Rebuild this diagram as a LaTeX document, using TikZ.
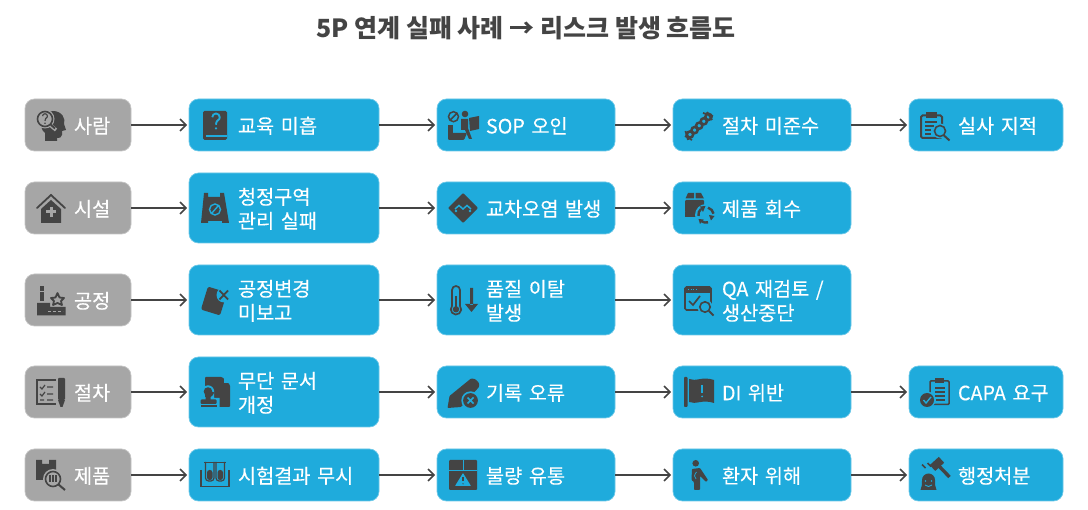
\documentclass[tikz,border=0pt]{standalone}
\usepackage{fontspec}
\setmainfont{Noto Sans CJK KR}
\newfontfamily\medf[FakeBold=0.2]{Noto Sans CJK KR}
\usetikzlibrary{arrows.meta}
\definecolor{bluebox}{HTML}{1FABDC}
\definecolor{blueedge}{HTML}{6CC8E8}
\definecolor{graybox}{HTML}{A6A6A6}
\definecolor{grayedge}{HTML}{C4C4C4}
\definecolor{ink}{HTML}{444444}
\tikzset{
  x=1pt,y=-1pt,
  flowbox/.style={rounded corners=9.5pt,line width=.7pt,inner sep=0pt,align=left,text=white,
    font=\medf\fontsize{19.7}{24}\selectfont},
  bluenode/.style={flowbox,fill=bluebox,draw=blueedge},
  graynode/.style={flowbox,fill=graybox,draw=grayedge},
  flowarrow/.style={draw=ink,line width=1.6pt,-{Straight Barb[length=6pt,width=12pt,line width=1.6pt]},shorten >=1.5pt},
  ttl/.style={font=\fontsize{25}{30}\selectfont\bfseries,text=ink,inner sep=0pt},
}
\newcommand{\pad}{\hspace*{49pt}}
\newcommand{\pbox}[7]{\node[#1,minimum width=#5pt,minimum height=#6pt,text width=#5pt] (#2) at (#3,#4) {\rule{0pt}{18pt}\pad #7};}
\newcommand{\qmk}[4]{\begin{scope}[shift={(#1,#2)},scale=#3]
  \draw[#4,line width=#3*1.5pt] (-3,-3) arc (180:390:3) .. controls (1.5,-0.5) and (0,0.2) .. (0,3);
  \fill[#4] (0,6) circle (1);
\end{scope}}
\begin{document}
\begin{tikzpicture}
\useasboundingbox (0,0) rectangle (1088,510);
\fill[white] (0,0) rectangle (1088,510);
\node[ttl] (title) at (526,28) {5P 연계 실패 사례 → 리스크 발생 흐름도};
% row 1
\pbox{graynode}{g1}{78}{125}{106}{52}{사람}
\pbox{bluenode}{a1}{284}{125}{190}{52}{교육 미흡}
\pbox{bluenode}{a2}{526}{125}{178}{52}{SOP 오인}
\pbox{bluenode}{a3}{762}{125}{178}{52}{절차 미준수}
\pbox{bluenode}{a4}{986}{125}{154}{52}{실사 지적}
% row 2
\pbox{graynode}{g2}{78}{208}{106}{52}{시설}
\pbox{bluenode}{b1}{284}{208}{190}{70}{청정구역\\\pad 관리 실패}
\pbox{bluenode}{b2}{526}{208}{178}{52}{교차오염 발생}
\pbox{bluenode}{b3}{762}{208}{178}{52}{제품 회수}
% row 3
\pbox{graynode}{g3}{78}{300}{106}{52}{공정}
\pbox{bluenode}{c1}{284}{300}{190}{70}{공정변경\\\pad 미보고}
\pbox{bluenode}{c2}{526}{300}{178}{70}{품질 이탈\\\pad 발생}
\pbox{bluenode}{c3}{762}{300}{178}{70}{QA 재검토 /\\\pad 생산중단}
% row 4
\pbox{graynode}{g4}{78}{392}{106}{52}{절차}
\pbox{bluenode}{d1}{284}{392}{190}{70}{무단 문서\\\pad 개정}
\pbox{bluenode}{d2}{526}{392}{178}{52}{기록 오류}
\pbox{bluenode}{d3}{762}{392}{178}{52}{DI 위반}
\pbox{bluenode}{d4}{986}{392}{154}{52}{CAPA 요구}
% row 5
\pbox{graynode}{g5}{78}{475}{106}{52}{제품}
\pbox{bluenode}{e1}{284}{475}{190}{52}{시험결과 무시}
\pbox{bluenode}{e2}{526}{475}{178}{52}{불량 유통}
\pbox{bluenode}{e3}{762}{475}{178}{52}{환자 위해}
\pbox{bluenode}{e4}{986}{475}{154}{52}{행정처분}
% connectors
\draw[flowarrow] (g1) -- (a1); \draw[flowarrow] (a1) -- (a2); \draw[flowarrow] (a2) -- (a3); \draw[flowarrow] (a3) -- (a4);
\draw[flowarrow] (g2) -- (b1); \draw[flowarrow] (b1) -- (b2); \draw[flowarrow] (b2) -- (b3);
\draw[flowarrow] (g3) -- (c1); \draw[flowarrow] (c1) -- (c2); \draw[flowarrow] (c2) -- (c3);
\draw[flowarrow] (g4) -- (d1); \draw[flowarrow] (d1) -- (d2); \draw[flowarrow] (d2) -- (d3); \draw[flowarrow] (d3) -- (d4);
\draw[flowarrow] (g5) -- (e1); \draw[flowarrow] (e1) -- (e2); \draw[flowarrow] (e2) -- (e3); \draw[flowarrow] (e3) -- (e4);
% --- icons ---
% head + magnifier
\fill[ink] (45,141) -- (45,133) .. controls (38,128) and (40,112) .. (53,111) .. controls (62,111) and (66,119) .. (64,124) -- (66,130) -- (62,131) -- (62,135) .. controls (62,138) and (59,138) .. (57,138) -- (57,141) -- cycle;
\fill[graybox] (45,119) circle (9.5);
\draw[graybox,line width=3.5pt] (50,125) -- (56,130);
\draw[ink,line width=1.6pt] (45,119) circle (7.5);
\draw[ink,line width=1.8pt] (50.5,124.5) -- (55,128.5);
\qmk{45}{118.5}{.8}{ink}
% book
\fill[ink,rounded corners=1.5pt] (203,111) rectangle (227,140);
\draw[bluebox,line width=1.2pt] (206,136) -- (227,136);
\qmk{216}{121}{1.25}{bluebox}
% house
\fill[ink] (41,209) -- (51,200) -- (61,209) -- (61,223) -- (41,223) -- cycle;
\draw[ink,line width=1.8pt,line cap=round] (37,208) -- (51,195) -- (65,208);
\draw[graybox,line width=3pt] (51,207) -- (51,217) (46,212) -- (56,212);
% floor sign
\fill[ink] (204,193) -- (208,193) -- (208,197) -- (220,197) -- (220,193) -- (224,193) -- (229,223) -- (222,223) -- (222,221) -- (208,221) -- (208,223) -- (201,223) -- cycle;
\draw[bluebox,line width=1.4pt] (215,209.5) circle (5.5) (211.5,213.5) -- (218.5,205.5);
% factory
\fill[ink] (40,286) rectangle (44,301);
\draw[graybox,line width=1pt] (39,291.5) -- (45,291.5);
\fill[ink] (37,315.5) -- (37,303) -- (50,303) -- (50,307) -- (65.5,307) -- (65.5,315.5) -- cycle;
\draw[ink,line width=1.8pt,line join=round] (57.5,293) -- (59.5,297.5) -- (64,298) -- (61,301) -- (62,305) -- (57.5,303) -- (53,305) -- (54,301) -- (51,298) -- (55.5,297.5) -- cycle;
\draw[graybox,line width=1.8pt,dash pattern=on 3pt off 2pt] (48,311.5) -- (63,311.5);
% puzzle paper
\fill[ink,rounded corners=2pt,rotate around={-17:(214,301)}] (204,289) rectangle (224,313);
\fill[bluebox] (224,295) circle (7.5);
\draw[ink,line width=1.8pt] (219.5,290.5) -- (228,299.5) (228,290.5) -- (219.5,299.5);
% checklist + pen
\draw[ink,line width=1.5pt] (56,380) -- (37,380) -- (37,404) -- (56,404);
\draw[ink,line width=1.2pt] (40,387) -- (42,389) -- (45,385) (47,387) -- (53,387) (40,394) -- (42,396) -- (45,392) (47,394) -- (53,394) (47,400) -- (53,400) (40,400)--(44,400);
\fill[ink,rounded corners=1pt] (58,378) rectangle (65,400);
\fill[ink] (58,400) -- (65,400) -- (62.5,407) -- (60.5,407) -- cycle;
% document + stamp
\fill[ink,rounded corners=1pt] (205,377) -- (222,377) -- (230,385) -- (230,407) -- (205,407) -- cycle;
\fill[bluebox] (224,377) -- (224,383) -- (230,383) -- (230,377) -- cycle;
\fill[bluebox] (208,391.5) circle (6.2) (202,392) rectangle (214,399) (197,398) rectangle (219.5,408);
\fill[ink] (208,391.5) circle (4.3) (205.5,393) rectangle (210.5,400);
\fill[ink,rounded corners=1pt] (200.5,399.5) rectangle (216.5,404);
\fill[ink] (200.5,405) rectangle (216.5,407);
% product + magnifier
\fill[ink] (36,460) -- (42,460) -- (42,464) -- (49,464) -- (49,460) -- (56,460) -- (56,480) -- (36,480) -- cycle;
\fill[graybox] (53,479) circle (10);
\draw[ink,line width=1.6pt] (53,479) circle (7.5);
\draw[ink,line width=1.2pt] (50,475.5) -- (50,482.5) (53,475.5) -- (53,482.5) (56,475.5) -- (56,482.5);
\draw[ink,line width=2pt] (58.5,484.5) -- (65,490);
% test tubes
\draw[ink,line width=1.5pt] (201,470) -- (201,486.5) -- (229,486.5) -- (229,470);
\draw[ink,line width=1.5pt] (204,462.5) -- (226,462.5);
\draw[ink,line width=1.2pt,rounded corners=3pt] (205.5,462) -- (205.5,481) -- (214,481) -- (214,462);
\draw[ink,line width=1.2pt,rounded corners=3pt] (216,462) -- (216,481) -- (224.5,481) -- (224.5,462);
\fill[ink,rounded corners=2.5pt] (207,470) rectangle (212.5,480);
\fill[ink,rounded corners=2.5pt] (217.5,470) rectangle (223,480);
% SOP person
\draw[ink,line width=1.5pt] (453.5,116.7) circle (5) (450,120.2) -- (457,113.2);
\fill[ink] (448,125) rectangle (453,134);
\fill[ink,rounded corners=1pt] (448,133) -- (467,133) -- (464,140) -- (448,140) -- cycle;
\fill[ink] (465,114) circle (3.3);
\fill[ink] (461,119) -- (468,119) -- (468,128) -- (472,139) -- (469,139) -- (465,130) -- (461,130) -- cycle;
\fill[ink] (469,118) -- (479,116) -- (479,129) -- (470,131) -- cycle;
% chain
\foreach \t in {0,...,4}
  \draw[ink,line width=2.5pt] ({690+\t*4.6},{134.5-\t*4.4}) circle (3.1);
\draw[ink,line width=1.8pt] (685,136) -- (692,140) (685.5,131) -- (688,140) (707,112) -- (712,120) (703,113) -- (713,116);
% clipboard + magnifier
\draw[ink,line width=2pt,rounded corners=1.5pt] (921,115.5) rectangle (942,138);
\fill[ink] (926,112) rectangle (937,118);
\draw[ink,line width=1.3pt] (925,122) -- (937,122) (925,126) -- (934,126) (925,130) -- (931,130) (925,134) -- (931,134);
\fill[bluebox] (940,131) circle (7.5);
\draw[ink,line width=1.6pt] (940,131) circle (5.5);
\draw[ink,line width=2pt] (944,135.5) -- (949.5,140.5);
% diamond
\fill[ink,rounded corners=1pt] (463,193) -- (478,208) -- (463,223) -- (448,208) -- cycle;
\draw[bluebox,line width=1.5pt] (455,209) -- (459,205.5) -- (463,209) -- (467,205.5) -- (471,209);
\fill[bluebox] (456,211) circle (1.4) (470,211) circle (1.4);
% box + recycle
\fill[ink,rounded corners=1pt] (685,200) rectangle (704,212.5);
\fill[ink] (688,193) -- (694,193) -- (694,198.5) -- (685.5,198.5) -- cycle (695.5,193) -- (701,193) -- (704,198.5) -- (695.5,198.5) -- cycle;
\fill[ink] (685,212) rectangle (696,217);
\fill[bluebox] (706,215) circle (11);
\draw[ink,line width=2.4pt] (698.5,216) arc (170:230:7.6);
\draw[ink,line width=2.4pt] (708,207.7) arc (285:350:7.6);
\draw[ink,line width=2.4pt] (708,222.4) arc (75:130:7.6);
\fill[ink] (700,206.5) -- (705.5,206) -- (703,212) -- cycle (714.5,216) -- (711,220.5) -- (709,215) -- cycle (700,224) -- (698.5,219) -- (703.5,219.5) -- cycle;
% thermometer + arrow
\draw[ink,line width=1.7pt] (452,306) -- (452,290) arc (180:360:4) -- (460,306) arc (-40:220:5.2) ;
\fill[ink] (456,309.3) circle (3.2);
\draw[ink,line width=1.5pt] (456,296) -- (456,308);
\fill[ink] (470,288) rectangle (473,305) (465,304) -- (478,304) -- (471.5,312) -- cycle;
% window + check + magnifier
\draw[ink,line width=1.6pt,rounded corners=1.5pt] (685,287) rectangle (711,310);
\fill[ink] (685,287) rectangle (711,293);
\draw[bluebox,line width=1pt,dash pattern=on 1pt off 1.5pt] (688,290) -- (697,290);
\draw[ink,line width=1.7pt] (689,301) -- (693,305) -- (700,296);
\fill[bluebox] (705,307) circle (7.6);
\draw[ink,line width=1.6pt] (705,307) circle (5.2);
\draw[ink,line width=2pt] (709,311) -- (713.5,315.5);
% pen + x
\fill[ink,rounded corners=.8pt] (447.5,408) -- (449.5,396) -- (471,378.5) -- (475,379) -- (479,383) -- (479,387) -- (461,407) -- cycle;
\fill[bluebox] (470.5,400.5) circle (9.2);
\fill[ink] (470.5,400.5) circle (7.4);
\draw[bluebox,line width=1.5pt] (467.5,397.5) -- (473.5,403.5) (473.5,397.5) -- (467.5,403.5);
% flag
\fill[ink,rounded corners=.8pt] (684,377) rectangle (687.5,407);
\fill[ink] (689,379) .. controls (696,382) and (702,376) .. (714,380) -- (714,403) .. controls (702,399) and (696,405) .. (689,402) -- cycle;
\draw[bluebox,line width=1.6pt] (702,385) -- (702,393);
\fill[bluebox] (702,396.5) circle (1);
% clipboard check
\draw[ink,line width=1.5pt,rounded corners=1pt] (930,381) -- (930,404.5) -- (949,404.5) -- (949,381) -- cycle;
\fill[ink] (935,378) rectangle (944,383);
\draw[ink,line width=1.2pt] (935,388) -- (945,388) (935,392) -- (945,392) (935,396) -- (945,396) (936,400) -- (945,400);
\fill[bluebox] (927,400) circle (8.5);
\fill[ink] (927,400) circle (7);
\draw[bluebox,line width=1.4pt] (923.5,400) -- (926,403) -- (931,397);
% box + warning
\fill[ink,rounded corners=1pt] (449,460) rectangle (477,490);
\draw[bluebox,line width=1pt] (449,470.5) -- (477,470.5) (463,460) -- (463,470);
\fill[bluebox,rounded corners=.5pt] (463,473) -- (471,486) -- (455,486) -- cycle;
\draw[ink,line width=1.2pt] (463,477) -- (463,481.5);
\fill[ink] (463,483.8) circle (.7);
% person
\fill[ink] (695.7,463.3) circle (3.3);
\fill[ink,rounded corners=.8pt] (692,469) -- (700,468) -- (708,480) -- (706,482) -- (700,476) -- (700,490) -- (694,490) -- (694,482) -- (691.5,480) -- cycle;
\draw[bluebox,line width=.7pt] (696.5,472) .. controls (694,475) and (694,477) .. (696,479);
% gavel + siren
\fill[ink] (920.5,490) .. controls (922,487) and (922,484) .. (922,480) arc (180:360:6.5) .. controls (935,484) and (935,487) .. (936.5,490) -- cycle;
\fill[bluebox] (925.5,481) circle (.9) (931.5,481) circle (.9);
\draw[bluebox,line width=.9pt] (925,485) .. controls (927,487) and (930,487) .. (932,485);
\draw[ink,line width=8pt] (932.5,468) -- (941.5,459.8);
\draw[ink,line width=3.4pt] (937,464) -- (949.5,477);
\draw[ink,line width=1.6pt] (925.5,468) -- (922,464.5) (931,466.5) -- (927.5,463);
\end{tikzpicture}
\end{document}
